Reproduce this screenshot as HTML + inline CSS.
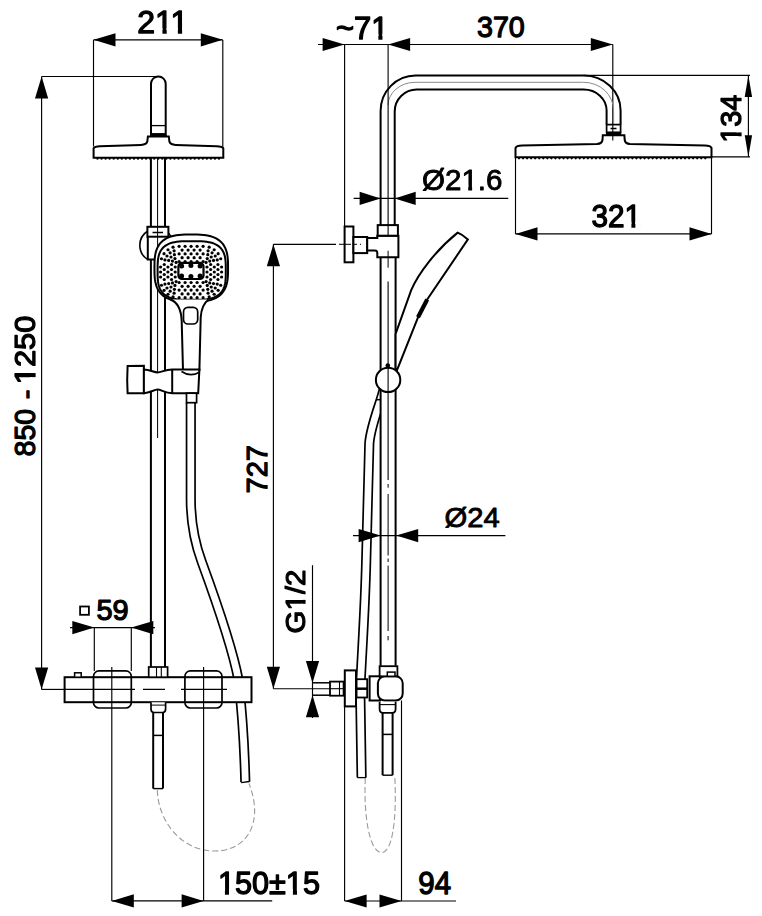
<!DOCTYPE html><html><head><meta charset="utf-8"><style>html,body{margin:0;padding:0;background:#fff;overflow:hidden}svg{display:block}</style></head><body>
<svg width="762" height="916" viewBox="0 0 762 916" font-family="Liberation Sans" font-weight="bold" stroke="#000" fill="#000" stroke-linecap="butt" stroke-linejoin="miter">
<line x1="93.5" y1="40" x2="93.5" y2="146.5" stroke-width="1.15" />
<line x1="222.8" y1="40" x2="222.8" y2="147" stroke-width="1.15" />
<line x1="93.5" y1="39.8" x2="222.8" y2="39.8" stroke-width="1.2" />
<polygon points="93.5,39.8 115.5,33.2 115.5,46.4" stroke="none"/>
<polygon points="222.8,39.8 200.8,33.2 200.8,46.4" stroke="none"/>
<mask id="m1" maskUnits="userSpaceOnUse" x="-20" y="-120" width="400" height="160"><rect x="-20" y="-120" width="400" height="160" fill="#fff" stroke="none"/><rect x="58.11" y="-16" width="20.4" height="24" fill="#000" stroke="none"/><rect x="91.81" y="-16" width="18.6" height="24" fill="#000" stroke="none"/><rect x="106.30" y="-16" width="20.4" height="24" fill="#000" stroke="none"/><rect x="140.00" y="-16" width="18.6" height="24" fill="#000" stroke="none"/></mask>
<text transform="matrix(0.31971,0,0,0.30811,137.34,33.08)" font-size="100" font-weight="normal" stroke-width="4.15" stroke-linejoin="round" mask="url(#m1)">211</text>
<line x1="41.6" y1="76.5" x2="41.6" y2="689.4" stroke-width="1.15" />
<polygon points="41.6,76.5 35,98.5 48.2,98.5" stroke="none"/>
<polygon points="41.6,689.4 35,667.4 48.2,667.4" stroke="none"/>
<line x1="41.6" y1="76.5" x2="158" y2="76.5" stroke-width="1.15" />
<line x1="41.6" y1="689.4" x2="64.6" y2="689.4" stroke-width="1.15" />
<mask id="m2" maskUnits="userSpaceOnUse" x="-20" y="-120" width="400" height="160"><rect x="-20" y="-120" width="400" height="160" fill="#fff" stroke="none"/><rect x="2.50" y="-16" width="20.4" height="24" fill="#000" stroke="none"/><rect x="36.20" y="-16" width="18.6" height="24" fill="#000" stroke="none"/></mask>
<text transform="matrix(0,-0.30892,0.29733,0,34.91,384.22)" font-size="100" font-weight="normal" stroke-width="4.15" stroke-linejoin="round" mask="url(#m2)">1250</text>
<text transform="matrix(0,-0.29474,0.28333,0,34.91,399.24)" font-size="100" font-weight="normal" stroke-width="4.15" stroke-linejoin="round">-</text>
<text transform="matrix(0,-0.28554,0.29733,0,34.91,456.41)" font-size="100" font-weight="normal" stroke-width="4.15" stroke-linejoin="round">850</text>
<path d="M190.8,402.7 L190.8,499 C190.8,527 195.5,545 201.8,562 C215,598 232,645 238.5,680 C242.5,715 244.5,750 245.3,782" stroke-width="10.2" fill="none" />
<path d="M190.8,402.7 L190.8,499 C190.8,527 195.5,545 201.8,562 C215,598 232,645 238.5,680 C242.5,715 244.5,750 245.3,782" stroke-width="6.8" fill="none" stroke="#fff"/>
<path d="M241.2,782.6 L249.4,781.5" stroke-width="1.3" fill="none" />
<path d="M157.3,790 C158,820 180,850 213,851 C245,852 265,825 249,783.5" stroke-width="1.1" fill="none" stroke="#9a9a9a" stroke-dasharray="6,3"/>
<line x1="150.9" y1="158" x2="150.9" y2="667" stroke-width="2.0" />
<line x1="165" y1="158" x2="165" y2="667" stroke-width="2.0" />
<line x1="157.6" y1="158" x2="157.6" y2="438" stroke-width="1.0" />
<path d="M151,136 L151,83.8 A7.35,7.35 0 0 1 165.7,83.8 L165.7,136" stroke-width="2.0" fill="#fff" />
<line x1="151" y1="125.6" x2="165.7" y2="125.6" stroke-width="1.3" />
<rect x="151" y="133.6" width="14.7" height="3" stroke-width="1.0" fill="#000"/>
<path d="M93.6,157.8 L93.6,148.3 Q94.5,146.6 100,146.3 L141,144.9 Q146.6,144.6 147.3,141.5 L147.9,136.6 L168.8,136.6 L169.4,141.5 Q170.1,144.6 175.7,144.9 L216.5,146.3 Q222.3,146.6 223.3,148.3 L223.3,157.8 Z" stroke-width="2.0" fill="#fff" />
<circle cx="97.5" cy="158.7" r="1.15" stroke="none"/>
<circle cx="101.55" cy="158.7" r="1.15" stroke="none"/>
<circle cx="105.6" cy="158.7" r="1.15" stroke="none"/>
<circle cx="109.65" cy="158.7" r="1.15" stroke="none"/>
<circle cx="113.7" cy="158.7" r="1.15" stroke="none"/>
<circle cx="117.75" cy="158.7" r="1.15" stroke="none"/>
<circle cx="121.8" cy="158.7" r="1.15" stroke="none"/>
<circle cx="125.85" cy="158.7" r="1.15" stroke="none"/>
<circle cx="129.9" cy="158.7" r="1.15" stroke="none"/>
<circle cx="133.95" cy="158.7" r="1.15" stroke="none"/>
<circle cx="138" cy="158.7" r="1.15" stroke="none"/>
<circle cx="142.05" cy="158.7" r="1.15" stroke="none"/>
<circle cx="146.1" cy="158.7" r="1.15" stroke="none"/>
<circle cx="150.15" cy="158.7" r="1.15" stroke="none"/>
<circle cx="154.2" cy="158.7" r="1.15" stroke="none"/>
<circle cx="158.25" cy="158.7" r="1.15" stroke="none"/>
<circle cx="162.3" cy="158.7" r="1.15" stroke="none"/>
<circle cx="166.35" cy="158.7" r="1.15" stroke="none"/>
<circle cx="170.4" cy="158.7" r="1.15" stroke="none"/>
<circle cx="174.45" cy="158.7" r="1.15" stroke="none"/>
<circle cx="178.5" cy="158.7" r="1.15" stroke="none"/>
<circle cx="182.55" cy="158.7" r="1.15" stroke="none"/>
<circle cx="186.6" cy="158.7" r="1.15" stroke="none"/>
<circle cx="190.65" cy="158.7" r="1.15" stroke="none"/>
<circle cx="194.7" cy="158.7" r="1.15" stroke="none"/>
<circle cx="198.75" cy="158.7" r="1.15" stroke="none"/>
<circle cx="202.8" cy="158.7" r="1.15" stroke="none"/>
<circle cx="206.85" cy="158.7" r="1.15" stroke="none"/>
<circle cx="210.9" cy="158.7" r="1.15" stroke="none"/>
<circle cx="214.95" cy="158.7" r="1.15" stroke="none"/>
<circle cx="219" cy="158.7" r="1.15" stroke="none"/>
<path d="M147.8,231 A16.8,16.8 0 0 0 147.8,259.6" stroke-width="1.6" fill="none" />
<rect x="147.8" y="236.7" width="20" height="22.9" fill="#fff" stroke="none"/>
<path d="M147.8,236.7 L147.8,259.6 L155.5,259.6" stroke-width="2.0" fill="none" />
<line x1="157.6" y1="236.7" x2="157.6" y2="262" stroke-width="1.0" />
<rect x="147.4" y="226.8" width="21" height="9.9" stroke-width="2.0" fill="#fff"/>
<line x1="152.5" y1="232.5" x2="163" y2="232.5" stroke-width="1.5" />
<line x1="157.6" y1="226.8" x2="157.6" y2="236.7" stroke-width="1.0" />
<path d="M168.4,233 L172.5,238.5" stroke-width="1.5" fill="none" />
<path d="M228.05,268.10 L228.00,273.55 L227.84,276.75 L227.58,279.40 L227.21,281.75 L226.74,283.87 L226.16,285.81 L225.47,287.60 L224.69,289.27 L223.79,290.81 L222.79,292.23 L221.68,293.55 L220.46,294.77 L219.13,295.88 L217.68,296.89 L216.12,297.81 L214.43,298.63 L212.61,299.35 L210.65,299.97 L208.52,300.50 L206.20,300.93 L203.63,301.27 L200.72,301.51 L197.22,301.65 L191.25,301.70 L185.28,301.65 L181.78,301.51 L178.87,301.27 L176.30,300.93 L173.98,300.50 L171.85,299.97 L169.89,299.35 L168.07,298.63 L166.38,297.81 L164.82,296.89 L163.37,295.88 L162.04,294.77 L160.82,293.55 L159.71,292.23 L158.71,290.81 L157.81,289.27 L157.03,287.60 L156.34,285.81 L155.76,283.87 L155.29,281.75 L154.92,279.40 L154.66,276.75 L154.50,273.55 L154.45,268.10 L154.50,262.65 L154.66,259.45 L154.92,256.80 L155.29,254.45 L155.76,252.33 L156.34,250.39 L157.03,248.60 L157.81,246.93 L158.71,245.39 L159.71,243.97 L160.82,242.65 L162.04,241.43 L163.37,240.32 L164.82,239.31 L166.38,238.39 L168.07,237.57 L169.89,236.85 L171.85,236.23 L173.98,235.70 L176.30,235.27 L178.87,234.93 L181.78,234.69 L185.28,234.55 L191.25,234.50 L197.22,234.55 L200.72,234.69 L203.63,234.93 L206.20,235.27 L208.52,235.70 L210.65,236.23 L212.61,236.85 L214.43,237.57 L216.12,238.39 L217.68,239.31 L219.13,240.32 L220.46,241.43 L221.68,242.65 L222.79,243.97 L223.79,245.39 L224.69,246.93 L225.47,248.60 L226.16,250.39 L226.74,252.33 L227.21,254.45 L227.58,256.80 L227.84,259.45 L228.00,262.65 Z" stroke-width="2.0" fill="#fff" />
<path d="M225.80,270.50 L225.76,276.11 L225.62,279.03 L225.40,281.38 L225.09,283.42 L224.69,285.23 L224.20,286.87 L223.62,288.37 L222.95,289.75 L222.19,291.02 L221.34,292.19 L220.39,293.26 L219.34,294.25 L218.19,295.15 L216.94,295.96 L215.58,296.70 L214.10,297.35 L212.50,297.93 L210.75,298.43 L208.84,298.85 L206.73,299.19 L204.36,299.46 L201.63,299.65 L198.23,299.76 L191.70,299.80 L185.17,299.76 L181.77,299.65 L179.04,299.46 L176.67,299.19 L174.56,298.85 L172.65,298.43 L170.90,297.93 L169.30,297.35 L167.82,296.70 L166.46,295.96 L165.21,295.15 L164.06,294.25 L163.01,293.26 L162.06,292.19 L161.21,291.02 L160.45,289.75 L159.78,288.37 L159.20,286.87 L158.71,285.23 L158.31,283.42 L158.00,281.38 L157.78,279.03 L157.64,276.11 L157.60,270.50 L157.64,264.89 L157.78,261.97 L158.00,259.62 L158.31,257.58 L158.71,255.77 L159.20,254.13 L159.78,252.63 L160.45,251.25 L161.21,249.98 L162.06,248.81 L163.01,247.74 L164.06,246.75 L165.21,245.85 L166.46,245.04 L167.82,244.30 L169.30,243.65 L170.90,243.07 L172.65,242.57 L174.56,242.15 L176.67,241.81 L179.04,241.54 L181.77,241.35 L185.17,241.24 L191.70,241.20 L198.23,241.24 L201.63,241.35 L204.36,241.54 L206.73,241.81 L208.84,242.15 L210.75,242.57 L212.50,243.07 L214.10,243.65 L215.58,244.30 L216.94,245.04 L218.19,245.85 L219.34,246.75 L220.39,247.74 L221.34,248.81 L222.19,249.98 L222.95,251.25 L223.62,252.63 L224.20,254.13 L224.69,255.77 L225.09,257.58 L225.40,259.62 L225.62,261.97 L225.76,264.89 Z" stroke-width="2.0" fill="#fff" />
<circle cx="179.1" cy="246.3" r="1.6" stroke="none"/>
<circle cx="179.1" cy="297.7" r="1.6" stroke="none"/>
<circle cx="185.1" cy="246.3" r="1.6" stroke="none"/>
<circle cx="185.1" cy="297.7" r="1.6" stroke="none"/>
<circle cx="191.1" cy="246.3" r="1.6" stroke="none"/>
<circle cx="191.1" cy="297.7" r="1.6" stroke="none"/>
<circle cx="197.1" cy="246.3" r="1.6" stroke="none"/>
<circle cx="197.1" cy="297.7" r="1.6" stroke="none"/>
<circle cx="203.1" cy="246.3" r="1.6" stroke="none"/>
<circle cx="203.1" cy="297.7" r="1.6" stroke="none"/>
<circle cx="160.6" cy="267" r="1.6" stroke="none"/>
<circle cx="221.6" cy="267" r="1.6" stroke="none"/>
<circle cx="160.6" cy="272" r="1.6" stroke="none"/>
<circle cx="221.6" cy="272" r="1.6" stroke="none"/>
<circle cx="160.6" cy="277" r="1.6" stroke="none"/>
<circle cx="221.6" cy="277" r="1.6" stroke="none"/>
<circle cx="220.72" cy="285.26" r="1.6" stroke="none"/>
<circle cx="220.72" cy="258.74" r="1.6" stroke="none"/>
<circle cx="161.48" cy="285.26" r="1.6" stroke="none"/>
<circle cx="161.48" cy="258.74" r="1.6" stroke="none"/>
<circle cx="218.16" cy="290.28" r="1.6" stroke="none"/>
<circle cx="218.16" cy="253.72" r="1.6" stroke="none"/>
<circle cx="164.04" cy="290.28" r="1.6" stroke="none"/>
<circle cx="164.04" cy="253.72" r="1.6" stroke="none"/>
<circle cx="214.18" cy="294.26" r="1.6" stroke="none"/>
<circle cx="214.18" cy="249.74" r="1.6" stroke="none"/>
<circle cx="168.02" cy="294.26" r="1.6" stroke="none"/>
<circle cx="168.02" cy="249.74" r="1.6" stroke="none"/>
<circle cx="209.16" cy="296.82" r="1.6" stroke="none"/>
<circle cx="209.16" cy="247.18" r="1.6" stroke="none"/>
<circle cx="173.04" cy="296.82" r="1.6" stroke="none"/>
<circle cx="173.04" cy="247.18" r="1.6" stroke="none"/>
<circle cx="182.1" cy="250.1" r="1.6" stroke="none"/>
<circle cx="182.1" cy="293.9" r="1.6" stroke="none"/>
<circle cx="188.1" cy="250.1" r="1.6" stroke="none"/>
<circle cx="188.1" cy="293.9" r="1.6" stroke="none"/>
<circle cx="194.1" cy="250.1" r="1.6" stroke="none"/>
<circle cx="194.1" cy="293.9" r="1.6" stroke="none"/>
<circle cx="200.1" cy="250.1" r="1.6" stroke="none"/>
<circle cx="200.1" cy="293.9" r="1.6" stroke="none"/>
<circle cx="164.25" cy="264.5" r="1.6" stroke="none"/>
<circle cx="217.95" cy="264.5" r="1.6" stroke="none"/>
<circle cx="164.25" cy="269.5" r="1.6" stroke="none"/>
<circle cx="217.95" cy="269.5" r="1.6" stroke="none"/>
<circle cx="164.25" cy="274.5" r="1.6" stroke="none"/>
<circle cx="217.95" cy="274.5" r="1.6" stroke="none"/>
<circle cx="164.25" cy="279.5" r="1.6" stroke="none"/>
<circle cx="217.95" cy="279.5" r="1.6" stroke="none"/>
<circle cx="217.25" cy="284.03" r="1.6" stroke="none"/>
<circle cx="217.25" cy="259.97" r="1.6" stroke="none"/>
<circle cx="164.95" cy="284.03" r="1.6" stroke="none"/>
<circle cx="164.95" cy="259.97" r="1.6" stroke="none"/>
<circle cx="215.22" cy="288.01" r="1.6" stroke="none"/>
<circle cx="215.22" cy="255.99" r="1.6" stroke="none"/>
<circle cx="166.98" cy="288.01" r="1.6" stroke="none"/>
<circle cx="166.98" cy="255.99" r="1.6" stroke="none"/>
<circle cx="212.06" cy="291.17" r="1.6" stroke="none"/>
<circle cx="212.06" cy="252.83" r="1.6" stroke="none"/>
<circle cx="170.14" cy="291.17" r="1.6" stroke="none"/>
<circle cx="170.14" cy="252.83" r="1.6" stroke="none"/>
<circle cx="208.08" cy="293.2" r="1.6" stroke="none"/>
<circle cx="208.08" cy="250.8" r="1.6" stroke="none"/>
<circle cx="174.12" cy="293.2" r="1.6" stroke="none"/>
<circle cx="174.12" cy="250.8" r="1.6" stroke="none"/>
<circle cx="179.1" cy="253.9" r="1.6" stroke="none"/>
<circle cx="179.1" cy="290.1" r="1.6" stroke="none"/>
<circle cx="185.1" cy="253.9" r="1.6" stroke="none"/>
<circle cx="185.1" cy="290.1" r="1.6" stroke="none"/>
<circle cx="191.1" cy="253.9" r="1.6" stroke="none"/>
<circle cx="191.1" cy="290.1" r="1.6" stroke="none"/>
<circle cx="197.1" cy="253.9" r="1.6" stroke="none"/>
<circle cx="197.1" cy="290.1" r="1.6" stroke="none"/>
<circle cx="203.1" cy="253.9" r="1.6" stroke="none"/>
<circle cx="203.1" cy="290.1" r="1.6" stroke="none"/>
<circle cx="167.9" cy="267" r="1.6" stroke="none"/>
<circle cx="214.3" cy="267" r="1.6" stroke="none"/>
<circle cx="167.9" cy="272" r="1.6" stroke="none"/>
<circle cx="214.3" cy="272" r="1.6" stroke="none"/>
<circle cx="167.9" cy="277" r="1.6" stroke="none"/>
<circle cx="214.3" cy="277" r="1.6" stroke="none"/>
<circle cx="213.5" cy="283.58" r="1.6" stroke="none"/>
<circle cx="213.5" cy="260.42" r="1.6" stroke="none"/>
<circle cx="168.7" cy="283.58" r="1.6" stroke="none"/>
<circle cx="168.7" cy="260.42" r="1.6" stroke="none"/>
<circle cx="211.21" cy="287.01" r="1.6" stroke="none"/>
<circle cx="211.21" cy="256.99" r="1.6" stroke="none"/>
<circle cx="170.99" cy="287.01" r="1.6" stroke="none"/>
<circle cx="170.99" cy="256.99" r="1.6" stroke="none"/>
<circle cx="207.78" cy="289.3" r="1.6" stroke="none"/>
<circle cx="207.78" cy="254.7" r="1.6" stroke="none"/>
<circle cx="174.42" cy="289.3" r="1.6" stroke="none"/>
<circle cx="174.42" cy="254.7" r="1.6" stroke="none"/>
<circle cx="182.1" cy="257.7" r="1.6" stroke="none"/>
<circle cx="182.1" cy="286.3" r="1.6" stroke="none"/>
<circle cx="188.1" cy="257.7" r="1.6" stroke="none"/>
<circle cx="188.1" cy="286.3" r="1.6" stroke="none"/>
<circle cx="194.1" cy="257.7" r="1.6" stroke="none"/>
<circle cx="194.1" cy="286.3" r="1.6" stroke="none"/>
<circle cx="200.1" cy="257.7" r="1.6" stroke="none"/>
<circle cx="200.1" cy="286.3" r="1.6" stroke="none"/>
<circle cx="171.55" cy="264.5" r="1.6" stroke="none"/>
<circle cx="210.65" cy="264.5" r="1.6" stroke="none"/>
<circle cx="171.55" cy="269.5" r="1.6" stroke="none"/>
<circle cx="210.65" cy="269.5" r="1.6" stroke="none"/>
<circle cx="171.55" cy="274.5" r="1.6" stroke="none"/>
<circle cx="210.65" cy="274.5" r="1.6" stroke="none"/>
<circle cx="171.55" cy="279.5" r="1.6" stroke="none"/>
<circle cx="210.65" cy="279.5" r="1.6" stroke="none"/>
<circle cx="209.73" cy="282.88" r="1.6" stroke="none"/>
<circle cx="209.73" cy="261.12" r="1.6" stroke="none"/>
<circle cx="172.47" cy="282.88" r="1.6" stroke="none"/>
<circle cx="172.47" cy="261.12" r="1.6" stroke="none"/>
<circle cx="207.23" cy="285.38" r="1.6" stroke="none"/>
<circle cx="207.23" cy="258.62" r="1.6" stroke="none"/>
<circle cx="174.97" cy="285.38" r="1.6" stroke="none"/>
<circle cx="174.97" cy="258.62" r="1.6" stroke="none"/>
<circle cx="179.1" cy="261.5" r="1.6" stroke="none"/>
<circle cx="179.1" cy="282.5" r="1.6" stroke="none"/>
<circle cx="185.1" cy="261.5" r="1.6" stroke="none"/>
<circle cx="185.1" cy="282.5" r="1.6" stroke="none"/>
<circle cx="191.1" cy="261.5" r="1.6" stroke="none"/>
<circle cx="191.1" cy="282.5" r="1.6" stroke="none"/>
<circle cx="197.1" cy="261.5" r="1.6" stroke="none"/>
<circle cx="197.1" cy="282.5" r="1.6" stroke="none"/>
<circle cx="203.1" cy="261.5" r="1.6" stroke="none"/>
<circle cx="203.1" cy="282.5" r="1.6" stroke="none"/>
<circle cx="175.2" cy="267" r="1.6" stroke="none"/>
<circle cx="207" cy="267" r="1.6" stroke="none"/>
<circle cx="175.2" cy="272" r="1.6" stroke="none"/>
<circle cx="207" cy="272" r="1.6" stroke="none"/>
<circle cx="175.2" cy="277" r="1.6" stroke="none"/>
<circle cx="207" cy="277" r="1.6" stroke="none"/>
<circle cx="206.09" cy="281.59" r="1.6" stroke="none"/>
<circle cx="206.09" cy="262.41" r="1.6" stroke="none"/>
<circle cx="176.11" cy="281.59" r="1.6" stroke="none"/>
<circle cx="176.11" cy="262.41" r="1.6" stroke="none"/>
<rect x="178.4" y="262.9" width="25.1" height="16.1" rx="3.5" stroke-width="2.2" fill="#fff"/>
<circle cx="181.6" cy="266" r="2.5" stroke="none"/>
<circle cx="190.9" cy="265.6" r="2.5" stroke="none"/>
<circle cx="200.1" cy="266" r="2.5" stroke="none"/>
<circle cx="181.6" cy="276.1" r="2.5" stroke="none"/>
<circle cx="190.9" cy="276.5" r="2.5" stroke="none"/>
<circle cx="200.1" cy="276.1" r="2.5" stroke="none"/>
<path d="M170.5,299.5 C177,302 181.2,309 181.7,321.2 L183,370 L199.4,370 L200.7,317.3 C201.3,308 204,303 208.5,299.5" stroke-width="2.0" fill="#fff" />
<rect x="183.5" y="307.4" width="14.2" height="16.6" rx="4.5" stroke-width="1.7" fill="#fff"/>
<path d="M127.6,366 L143.9,365.7 L143.9,393.2 L127.6,393.2 Q126.8,380 127.6,366 Z" stroke-width="2.0" fill="#fff" />
<path d="M143.9,369.4 C150,369.6 154,372.4 157.6,372.4 C161,372.4 165,369.8 172.2,369.6 L199.4,369.6 L198.2,393.2 L172.2,393.2 C165,393 161,389.6 157.6,389.6 C154,389.6 150,393 143.9,393.2 Z" stroke-width="2.0" fill="#fff" />
<line x1="172.2" y1="369.6" x2="172.2" y2="393.2" stroke-width="2.0" />
<path d="M181.5,371.5 Q190.5,377.5 199.8,372" stroke-width="1.6" fill="none" />
<rect x="186.5" y="393.2" width="10.1" height="9.5" stroke-width="1.7" fill="#fff"/>
<rect x="64.6" y="677.2" width="186.9" height="25" stroke-width="2.0" fill="#fff"/>
<rect x="74.6" y="672.8" width="6.6" height="4.4" stroke-width="1.5" fill="#fff"/>
<rect x="93.5" y="670.9" width="37.8" height="37.1" rx="5.5" stroke-width="1.7" fill="none"/>
<rect x="184.9" y="670.9" width="37.1" height="37.1" rx="5.5" stroke-width="1.7" fill="none"/>
<path d="M64.6,689.4 L135,689.4 M143,689.4 L165,689.4 M181,689.4 L227,689.4" stroke-width="1.1" fill="none" />
<rect x="148.7" y="667" width="18.9" height="10.2" stroke-width="1.7" fill="#fff"/>
<line x1="156.5" y1="667" x2="156.5" y2="677.2" stroke-width="1.1" />
<line x1="161.3" y1="667" x2="161.3" y2="677.2" stroke-width="1.1" />
<path d="M151,702.2 L151,709 Q151,712.5 154,712.5 L162.6,712.5 Q165.6,712.5 165.6,709 L165.6,702.2" stroke-width="1.7" fill="#fff" />
<line x1="150.6" y1="705.1" x2="165.8" y2="705.1" stroke-width="1.0" />
<line x1="153.2" y1="712.5" x2="153.2" y2="788.6" stroke-width="2.0" />
<line x1="163" y1="712.5" x2="163" y2="788.6" stroke-width="2.0" />
<line x1="153.2" y1="735.4" x2="163" y2="735.4" stroke-width="1.5" />
<line x1="153.2" y1="788.6" x2="163" y2="788.6" stroke-width="1.4" />
<line x1="111.8" y1="667" x2="111.8" y2="900.9" stroke-width="1.15" />
<line x1="203.6" y1="667" x2="203.6" y2="900.9" stroke-width="1.15" />
<line x1="111.8" y1="900.9" x2="272.2" y2="900.9" stroke-width="1.2" />
<polygon points="111.8,900.9 133.8,894.3 133.8,907.5" stroke="none"/>
<polygon points="203.6,900.9 181.6,894.3 181.6,907.5" stroke="none"/>
<mask id="m3" maskUnits="userSpaceOnUse" x="-20" y="-120" width="400" height="160"><rect x="-20" y="-120" width="400" height="160" fill="#fff" stroke="none"/><rect x="2.50" y="-16" width="20.4" height="24" fill="#000" stroke="none"/><rect x="36.20" y="-16" width="18.6" height="24" fill="#000" stroke="none"/><rect x="224.22" y="-16" width="20.4" height="24" fill="#000" stroke="none"/><rect x="257.92" y="-16" width="18.6" height="24" fill="#000" stroke="none"/></mask>
<text transform="matrix(0.30665,0,0,0.31467,217.90,893.96)" font-size="100" font-weight="normal" stroke-width="4.15" stroke-linejoin="round" mask="url(#m3)">150±15</text>
<line x1="94.3" y1="627.5" x2="94.3" y2="671" stroke-width="1.15" />
<line x1="131.3" y1="627.5" x2="131.3" y2="671" stroke-width="1.15" />
<line x1="70" y1="627.6" x2="155" y2="627.6" stroke-width="1.2" />
<polygon points="94.3,627.6 72.3,621 72.3,634.2" stroke="none"/>
<polygon points="131.3,627.6 153.3,621 153.3,634.2" stroke="none"/>
<text transform="matrix(0.28920,0,0,0.30000,96.52,620.30)" font-size="100" font-weight="normal" stroke-width="4.15" stroke-linejoin="round">59</text>
<rect x="80.1" y="606.5" width="8.8" height="8.3" stroke-width="1.8" fill="#fff"/>
<line x1="273.4" y1="244.3" x2="273.4" y2="688.7" stroke-width="1.15" />
<polygon points="273.4,244.3 266.8,266.3 280,266.3" stroke="none"/>
<polygon points="273.4,688.7 266.8,666.7 280,666.7" stroke="none"/>
<line x1="273.4" y1="244.3" x2="336" y2="244.3" stroke-width="1.15" />
<line x1="273.4" y1="688.7" x2="330" y2="688.7" stroke-width="1.15" />
<text transform="matrix(0,-0.29193,0.29865,0,266.80,493.58)" font-size="100" font-weight="normal" stroke-width="4.15" stroke-linejoin="round">727</text>
<line x1="318" y1="44.5" x2="612.8" y2="44.5" stroke-width="1.2" />
<line x1="344.6" y1="44.5" x2="344.6" y2="226.5" stroke-width="1.15" />
<line x1="612.8" y1="44.5" x2="612.8" y2="140.5" stroke-width="1.15" />
<polygon points="344.6,44.5 322.6,37.9 322.6,51.1" stroke="none"/>
<polygon points="388.1,44.5 410.1,37.9 410.1,51.1" stroke="none"/>
<polygon points="612.8,44.5 590.8,37.9 590.8,51.1" stroke="none"/>
<mask id="m4" maskUnits="userSpaceOnUse" x="-20" y="-120" width="400" height="160"><rect x="-20" y="-120" width="400" height="160" fill="#fff" stroke="none"/><rect x="116.50" y="-16" width="20.4" height="24" fill="#000" stroke="none"/><rect x="150.20" y="-16" width="18.6" height="24" fill="#000" stroke="none"/></mask>
<text transform="matrix(0.30983,0,0,0.31781,335.93,38.86)" font-size="100" font-weight="normal" stroke-width="4.15" stroke-linejoin="round" mask="url(#m4)">~71</text>
<text transform="matrix(0.28712,0,0,0.30400,476.93,37.39)" font-size="100" font-weight="normal" stroke-width="4.15" stroke-linejoin="round">370</text>
<path d="M384,388 C381,402 371,424 369.3,443 L366.2,560 C365,610 362,650 360.2,690 L361.6,777.5" stroke-width="10.2" fill="none" />
<path d="M384,388 C381,402 371,424 369.3,443 L366.2,560 C365,610 362,650 360.2,690 L361.6,777.5" stroke-width="6.8" fill="none" stroke="#fff"/>
<line x1="357.3" y1="777.6" x2="366.2" y2="777.6" stroke-width="1.3" />
<path d="M365.3,778 C363.5,818 370,852 381.4,852.7 C392,852.5 397,822 394.8,776" stroke-width="1.1" fill="none" stroke="#9a9a9a" stroke-dasharray="6,3"/>
<path d="M380.6,257.3 L380.6,111 A35,35.5 0 0 1 415.6,75.5 L583.6,75.5 A37,35 0 0 1 620.6,110.5 L620.6,124.6" stroke-width="2.0" fill="none" />
<path d="M394.7,225.1 L394.7,111.5 A22,22 0 0 1 416.7,89.5 L583.6,89.5 A23,21 0 0 1 606.6,110.5 L606.6,124.6" stroke-width="2.0" fill="none" />
<rect x="380.6" y="257.3" width="15" height="408.5" fill="#fff" stroke="none"/>
<path d="M380.6,257.3 L380.6,665.8" stroke-width="2.0" fill="none" />
<line x1="395.6" y1="257.3" x2="395.6" y2="665.8" stroke-width="2.0" />
<path d="M388.1,105 A27,23 0 0 1 415,82.3 L583.6,82.3 A30,28 0 0 1 613.6,110.3 L613.6,124.6" stroke-width="1.0" fill="none" stroke="#8a8a8a"/>
<rect x="606.6" y="124.6" width="14" height="7.8" stroke-width="1.7" fill="#fff"/>
<line x1="610.5" y1="128.5" x2="616.5" y2="128.5" stroke-width="1.5" />
<path d="M515.5,157.3 L515.5,148 Q516.5,145.8 522,145.6 L597,144 Q602,143.6 602.5,140 L602.8,135.3 L624.4,135.3 L624.7,140 Q625.2,143.6 630,144 L705,145.6 Q710.5,145.8 711.5,148 L711.5,157.3 Z" stroke-width="2.0" fill="#fff" />
<rect x="606.6" y="132.4" width="14" height="2.9" stroke-width="1.2" fill="#000"/>
<line x1="612.8" y1="124.6" x2="612.8" y2="140.5" stroke-width="1.1" />
<circle cx="519" cy="158.3" r="1.15" stroke="none"/>
<circle cx="523.05" cy="158.3" r="1.15" stroke="none"/>
<circle cx="527.1" cy="158.3" r="1.15" stroke="none"/>
<circle cx="531.15" cy="158.3" r="1.15" stroke="none"/>
<circle cx="535.2" cy="158.3" r="1.15" stroke="none"/>
<circle cx="539.25" cy="158.3" r="1.15" stroke="none"/>
<circle cx="543.3" cy="158.3" r="1.15" stroke="none"/>
<circle cx="547.35" cy="158.3" r="1.15" stroke="none"/>
<circle cx="551.4" cy="158.3" r="1.15" stroke="none"/>
<circle cx="555.45" cy="158.3" r="1.15" stroke="none"/>
<circle cx="559.5" cy="158.3" r="1.15" stroke="none"/>
<circle cx="563.55" cy="158.3" r="1.15" stroke="none"/>
<circle cx="567.6" cy="158.3" r="1.15" stroke="none"/>
<circle cx="571.65" cy="158.3" r="1.15" stroke="none"/>
<circle cx="575.7" cy="158.3" r="1.15" stroke="none"/>
<circle cx="579.75" cy="158.3" r="1.15" stroke="none"/>
<circle cx="583.8" cy="158.3" r="1.15" stroke="none"/>
<circle cx="587.85" cy="158.3" r="1.15" stroke="none"/>
<circle cx="591.9" cy="158.3" r="1.15" stroke="none"/>
<circle cx="595.95" cy="158.3" r="1.15" stroke="none"/>
<circle cx="600" cy="158.3" r="1.15" stroke="none"/>
<circle cx="604.05" cy="158.3" r="1.15" stroke="none"/>
<circle cx="608.1" cy="158.3" r="1.15" stroke="none"/>
<circle cx="612.15" cy="158.3" r="1.15" stroke="none"/>
<circle cx="616.2" cy="158.3" r="1.15" stroke="none"/>
<circle cx="620.25" cy="158.3" r="1.15" stroke="none"/>
<circle cx="624.3" cy="158.3" r="1.15" stroke="none"/>
<circle cx="628.35" cy="158.3" r="1.15" stroke="none"/>
<circle cx="632.4" cy="158.3" r="1.15" stroke="none"/>
<circle cx="636.45" cy="158.3" r="1.15" stroke="none"/>
<circle cx="640.5" cy="158.3" r="1.15" stroke="none"/>
<circle cx="644.55" cy="158.3" r="1.15" stroke="none"/>
<circle cx="648.6" cy="158.3" r="1.15" stroke="none"/>
<circle cx="652.65" cy="158.3" r="1.15" stroke="none"/>
<circle cx="656.7" cy="158.3" r="1.15" stroke="none"/>
<circle cx="660.75" cy="158.3" r="1.15" stroke="none"/>
<circle cx="664.8" cy="158.3" r="1.15" stroke="none"/>
<circle cx="668.85" cy="158.3" r="1.15" stroke="none"/>
<circle cx="672.9" cy="158.3" r="1.15" stroke="none"/>
<circle cx="676.95" cy="158.3" r="1.15" stroke="none"/>
<circle cx="681" cy="158.3" r="1.15" stroke="none"/>
<circle cx="685.05" cy="158.3" r="1.15" stroke="none"/>
<circle cx="689.1" cy="158.3" r="1.15" stroke="none"/>
<circle cx="693.15" cy="158.3" r="1.15" stroke="none"/>
<circle cx="697.2" cy="158.3" r="1.15" stroke="none"/>
<circle cx="701.25" cy="158.3" r="1.15" stroke="none"/>
<circle cx="705.3" cy="158.3" r="1.15" stroke="none"/>
<line x1="583.6" y1="75.4" x2="750" y2="75.4" stroke-width="1.15" />
<line x1="711.5" y1="156.8" x2="750" y2="156.8" stroke-width="1.15" />
<line x1="748.4" y1="75.4" x2="748.4" y2="156.8" stroke-width="1.15" />
<polygon points="748.4,75.4 744.7,96.9 752.1,96.9" stroke="none"/>
<polygon points="748.4,156.8 744.7,135.3 752.1,135.3" stroke="none"/>
<mask id="m5" maskUnits="userSpaceOnUse" x="-20" y="-120" width="400" height="160"><rect x="-20" y="-120" width="400" height="160" fill="#fff" stroke="none"/><rect x="2.50" y="-16" width="20.4" height="24" fill="#000" stroke="none"/><rect x="36.20" y="-16" width="18.6" height="24" fill="#000" stroke="none"/></mask>
<text transform="matrix(0,-0.28896,0.29733,0,741.41,142.87)" font-size="100" font-weight="normal" stroke-width="4.15" stroke-linejoin="round" mask="url(#m5)">134</text>
<line x1="515.5" y1="158" x2="515.5" y2="234" stroke-width="1.15" />
<line x1="711.5" y1="158" x2="711.5" y2="234" stroke-width="1.15" />
<line x1="515.5" y1="233.9" x2="711.5" y2="233.9" stroke-width="1.2" />
<polygon points="515.5,233.9 537.5,227.3 537.5,240.5" stroke="none"/>
<polygon points="711.5,233.9 689.5,227.3 689.5,240.5" stroke="none"/>
<mask id="m6" maskUnits="userSpaceOnUse" x="-20" y="-120" width="400" height="160"><rect x="-20" y="-120" width="400" height="160" fill="#fff" stroke="none"/><rect x="113.72" y="-16" width="20.4" height="24" fill="#000" stroke="none"/><rect x="147.42" y="-16" width="18.6" height="24" fill="#000" stroke="none"/></mask>
<text transform="matrix(0.29759,0,0,0.31067,591.50,226.67)" font-size="100" font-weight="normal" stroke-width="4.15" stroke-linejoin="round" mask="url(#m6)">321</text>
<line x1="353.7" y1="198.4" x2="508.3" y2="198.4" stroke-width="1.2" />
<polygon points="380.6,198.4 359.6,191.8 359.6,205" stroke="none"/>
<polygon points="394.7,198.4 415.7,191.8 415.7,205" stroke="none"/>
<mask id="m7" maskUnits="userSpaceOnUse" x="-20" y="-120" width="400" height="160"><rect x="-20" y="-120" width="400" height="160" fill="#fff" stroke="none"/><rect x="135.89" y="-16" width="20.4" height="24" fill="#000" stroke="none"/><rect x="169.59" y="-16" width="18.6" height="24" fill="#000" stroke="none"/></mask>
<text transform="matrix(0.29607,0,0,0.29351,421.91,190.03)" font-size="100" font-weight="normal" stroke-width="2.93" stroke-linejoin="round" mask="url(#m7)">Ø21.6</text>
<rect x="344.6" y="226.5" width="8.8" height="35.8" stroke-width="2.0" fill="#fff"/>
<rect x="353.4" y="237" width="13.8" height="16.1" stroke-width="2.0" fill="#fff"/>
<path d="M367.2,238 L377.3,238 L377.3,235.7 L398.4,235.7 L398.4,257.3 L377.3,257.3 L377.3,253 Q377.3,250.4 375,250.4 L367.2,250.4 Z" stroke-width="2.0" fill="#fff" />
<rect x="377.7" y="225.1" width="20.2" height="10.6" stroke-width="2.0" fill="#fff"/>
<line x1="388.1" y1="44.5" x2="388.1" y2="235.7" stroke-width="1.1" />
<line x1="388.1" y1="250.8" x2="388.1" y2="267.7" stroke-width="1.0" />
<line x1="388.1" y1="281.5" x2="388.1" y2="480" stroke-width="1.1" />
<line x1="388.1" y1="484" x2="388.1" y2="487.7" stroke-width="1.0" />
<path d="M388.1,494 L388.1,555.5 M388.1,558.5 L388.1,562 M388.1,565.6 L388.1,631 M388.1,636 L388.1,640.3" stroke-width="1.0" fill="none" />
<line x1="339" y1="244.3" x2="361" y2="244.3" stroke-width="1.0" stroke-dasharray="12,3,3,3"/>
<path d="M457.7,232.6 Q462.5,234.5 467.9,239.4 L427.2,299.5 L418,317.3 L396.8,370.6 L395.6,371 L395.6,334 L411.2,290.2 C418,274 436,250 457.7,232.6 Z" stroke-width="2.0" fill="#fff" />
<path d="M427.2,299.5 L418,317.3" stroke-width="4.2" fill="none" />
<circle cx="388.1" cy="379.9" r="12.2" stroke-width="2.0" fill="#fff" />
<line x1="388.1" y1="367.7" x2="388.1" y2="392.1" stroke-width="1.1" />
<line x1="376.2" y1="399.7" x2="380.6" y2="399.7" stroke-width="1.5" />
<circle cx="387.8" cy="365.6" r="2.3" stroke="none"/>
<line x1="353" y1="535.6" x2="505.4" y2="535.6" stroke-width="1.2" />
<polygon points="380.6,535.6 358.6,529 358.6,542.2" stroke="none"/>
<polygon points="396.2,535.6 418.2,529 418.2,542.2" stroke="none"/>
<text transform="matrix(0.29218,0,0,0.28442,444.52,527.06)" font-size="100" font-weight="normal" stroke-width="2.93" stroke-linejoin="round">Ø24</text>
<line x1="312.5" y1="565.2" x2="312.5" y2="718" stroke-width="1.15" />
<polygon points="312.5,683 305.9,661 319.1,661" stroke="none"/>
<polygon points="312.5,695.2 305.9,717.2 319.1,717.2" stroke="none"/>
<mask id="m8" maskUnits="userSpaceOnUse" x="-20" y="-120" width="400" height="160"><rect x="-20" y="-120" width="400" height="160" fill="#fff" stroke="none"/><rect x="80.28" y="-16" width="20.4" height="24" fill="#000" stroke="none"/><rect x="113.98" y="-16" width="18.6" height="24" fill="#000" stroke="none"/></mask>
<text transform="matrix(0,-0.29384,0.27949,0,305.42,633.38)" font-size="100" font-weight="normal" stroke-width="4.15" stroke-linejoin="round" mask="url(#m8)">G1/2</text>
<line x1="312.5" y1="682.8" x2="330" y2="682.8" stroke-width="1.5" />
<line x1="312.5" y1="695.2" x2="330" y2="695.2" stroke-width="1.5" />
<rect x="330" y="681.6" width="13.6" height="14.1" stroke-width="1.8" fill="#fff"/>
<line x1="330" y1="688.7" x2="343.6" y2="688.7" stroke-width="1.1" />
<line x1="339.5" y1="681.6" x2="339.5" y2="695.7" stroke-width="1.1" />
<rect x="344.8" y="670.4" width="11.2" height="36" stroke-width="2.0" fill="#fff"/>
<rect x="356.6" y="679.2" width="10.6" height="18.3" stroke-width="1.8" fill="#fff"/>
<line x1="356.6" y1="688.7" x2="367.2" y2="688.7" stroke-width="2.5" />
<rect x="369.6" y="676.3" width="10.4" height="24.2" stroke-width="2.0" fill="#fff"/>
<rect x="377.9" y="676.3" width="24.8" height="24.2" rx="7" stroke-width="2.0" fill="#fff"/>
<rect x="379.6" y="666.2" width="17.8" height="10.1" stroke-width="1.8" fill="#fff"/>
<rect x="387.3" y="672.1" width="7.7" height="4.2" stroke-width="1.5" fill="#fff"/>
<line x1="388.1" y1="640.3" x2="388.1" y2="640.3" stroke-width="1.0" />
<path d="M379.6,701.7 L379.6,709 Q379.6,712.9 383,712.9 L392.2,712.9 Q395.6,712.9 395.6,709 L395.6,701.7" stroke-width="1.8" fill="#fff" />
<line x1="379.6" y1="704.6" x2="395.6" y2="704.6" stroke-width="1.1" />
<line x1="382.6" y1="712.9" x2="382.6" y2="775.2" stroke-width="2.0" />
<line x1="392.6" y1="712.9" x2="392.6" y2="775.2" stroke-width="2.0" />
<line x1="382.6" y1="734.4" x2="392.6" y2="734.4" stroke-width="1.5" />
<line x1="382.6" y1="775.2" x2="392.6" y2="775.2" stroke-width="1.4" />
<line x1="344.6" y1="706.4" x2="344.6" y2="901" stroke-width="1.15" />
<line x1="401.5" y1="700.5" x2="401.5" y2="901" stroke-width="1.15" />
<line x1="344.6" y1="901" x2="456" y2="901" stroke-width="1.2" />
<polygon points="344.6,901 366.6,894.4 366.6,907.6" stroke="none"/>
<polygon points="401.5,901 379.5,894.4 379.5,907.6" stroke="none"/>
<text transform="matrix(0.29444,0,0,0.30800,418.36,893.58)" font-size="100" font-weight="normal" stroke-width="4.15" stroke-linejoin="round">94</text>
</svg></body></html>
